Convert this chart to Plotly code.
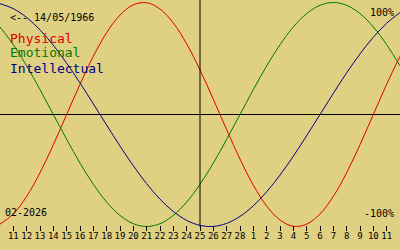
import plotly.graph_objects as go

# day index -1..29 relative to the first labelled day (11 Feb 2026)
days = list(range(-1, 30))
tick_idx = list(range(0, 29))
tick_labels = ["11", "12", "13", "14", "15", "16", "17", "18", "19", "20", "21", "22",
               "23", "24", "25", "26", "27", "28", "1", "2", "3", "4", "5", "6", "7",
               "8", "9", "10", "11"]

physical = [-0.979, -0.888, -0.731, -0.520, -0.270, 0.0, 0.270, 0.520, 0.731, 0.888,
            0.979, 0.998, 0.942, 0.817, 0.631, 0.398, 0.136, -0.136, -0.398, -0.631,
            -0.817, -0.942, -0.998, -0.979, -0.888, -0.731, -0.520, -0.270, 0.0, 0.270,
            0.520]
emotional = [0.782, 0.623, 0.434, 0.222, 0.0, -0.222, -0.434, -0.623, -0.782, -0.901,
             -0.975, -1.0, -0.975, -0.901, -0.782, -0.623, -0.434, -0.222, 0.0, 0.222,
             0.434, 0.623, 0.782, 0.901, 0.975, 1.0, 0.975, 0.901, 0.782, 0.623, 0.434]
intellectual = [0.990, 0.945, 0.866, 0.756, 0.618, 0.458, 0.282, 0.095, -0.095, -0.282,
                -0.458, -0.618, -0.756, -0.866, -0.945, -0.990, -0.999, -0.972, -0.910,
                -0.815, -0.690, -0.541, -0.372, -0.189, 0.0, 0.189, 0.372, 0.541, 0.690,
                0.815, 0.910]

center_day = 14
birth_label = "<-- 14/05/1966"
month_label = "02-2026"

RED = "#DD0000"
GREEN = "#007800"
BLUE = "#000088"
BG = "#E0D082"

fig = go.Figure()
for vals, col in [(physical, RED), (emotional, GREEN), (intellectual, BLUE)]:
    fig.add_trace(go.Scatter(x=days, y=vals, mode="lines",
                             line=dict(color=col, width=1, shape="spline"),
                             hoverinfo="skip", showlegend=False))

W, H = 400, 250
fig.update_layout(
    width=W, height=H, margin=dict(l=0, r=0, t=0, b=0),
    paper_bgcolor=BG, plot_bgcolor=BG, showlegend=False,
    xaxis=dict(range=[-1, 29], tickvals=tick_idx, ticktext=tick_labels,
               ticks="outside", ticklen=5, tickwidth=1, tickcolor="black",
               showgrid=False, zeroline=False, showline=False,
               anchor="free", position=0.1, ticklabelstandoff=-3,
               tickfont=dict(family="DejaVu Sans Mono", size=9, color="black")),
    yaxis=dict(range=[-1.2098, 1.0223], showgrid=False, showticklabels=False,
               zeroline=True, zerolinecolor="black", zerolinewidth=1, domain=[0, 1]),
)

fig.add_shape(type="line", xref="x", yref="y", x0=center_day, x1=center_day,
              y0=-1.0, y1=1.0223, line=dict(color="black", width=1))

def ann(text, px, py, size, color="black", anchor="left"):
    fig.add_annotation(text=text, xref="paper", yref="paper", x=px / W, y=1 - py / H,
                       xanchor=anchor, yanchor="middle", showarrow=False,
                       font=dict(family="DejaVu Sans Mono", size=size, color=color))

ann(birth_label, 8, 17, 10)
ann("Physical", 8, 38, 13, RED)
ann("Emotional", 8, 53, 13, GREEN)
ann("Intellectual", 8, 68, 13, BLUE)
ann("100%", 396, 12, 10, anchor="right")
ann("-100%", 396, 213, 10, anchor="right")
ann(month_label, 3, 212, 10)

fig.write_html("out.html")
